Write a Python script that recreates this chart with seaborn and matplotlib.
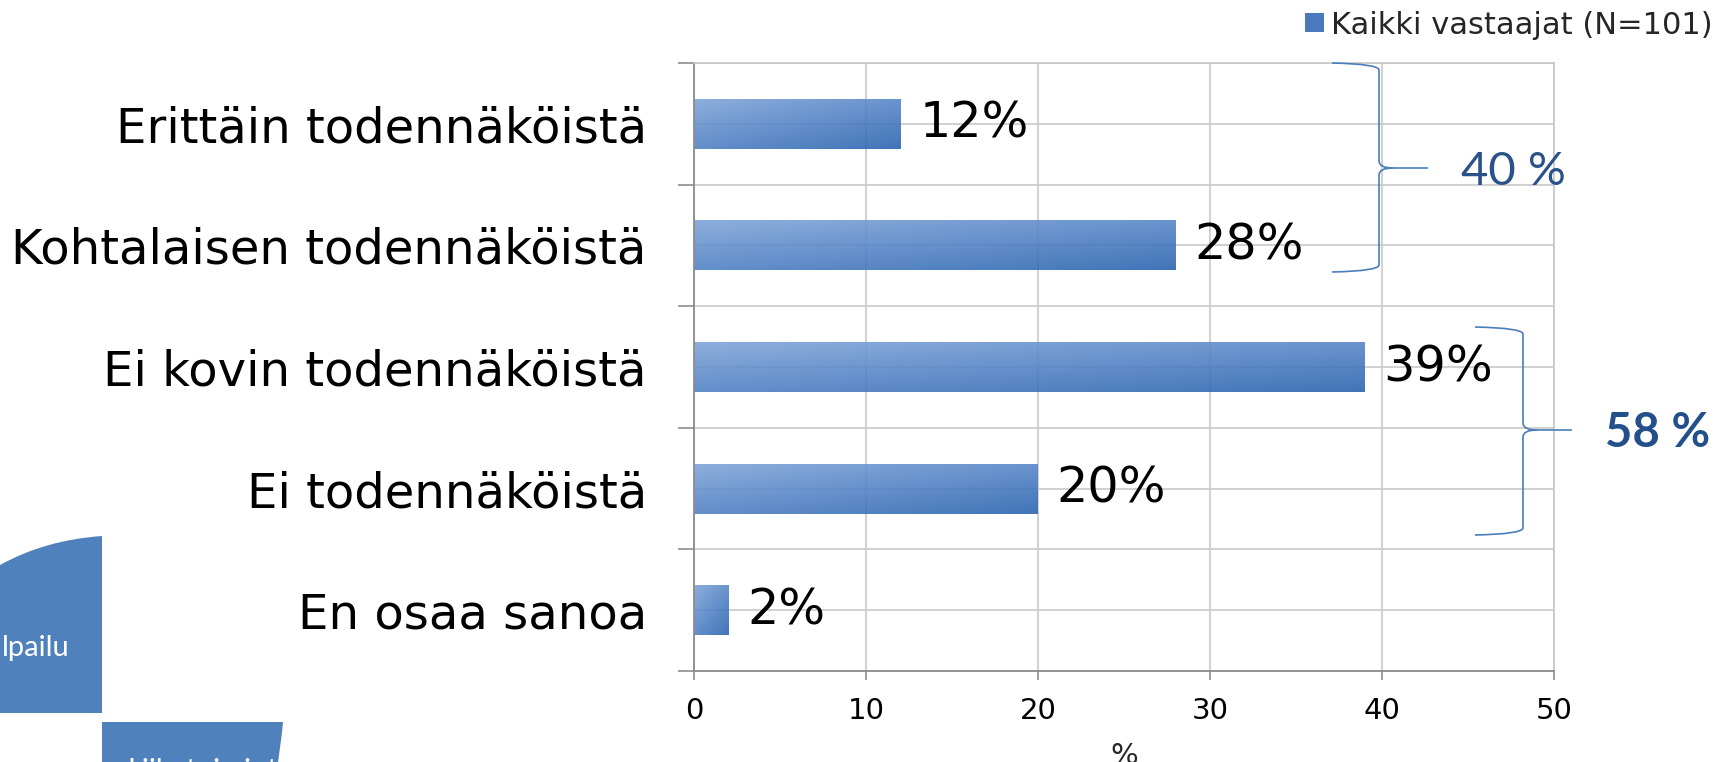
import numpy as np
import pandas as pd
import seaborn as sns
import matplotlib.pyplot as plt
from matplotlib.path import Path
from matplotlib.patches import PathPatch, Patch
from matplotlib.colors import LinearSegmentedColormap
from matplotlib.ticker import FixedLocator

categories = ["Erittäin todennäköistä", "Kohtalaisen todennäköistä",
              "Ei kovin todennäköistä", "Ei todennäköistä", "En osaa sanoa"]
values = [12, 28, 39, 20, 2]
series_name = "Kaikki vastaajat (N=101)"
group_labels = ["40 %", "58 %"]
x_ticks = [0, 10, 20, 30, 40, 50]

W, H = 1723, 762
sns.set_style("white")
plt.rcParams['font.family'] = ['DejaVu Sans']

df = pd.DataFrame({"cat": categories, "val": values})

fig = plt.figure(figsize=(W / 100, H / 100), dpi=100)
ax = fig.add_axes([694 / W, 1 - 671 / H, (1554 - 694) / W, (671 - 63) / H])

sns.barplot(data=df, y="cat", x="val", orient="h", width=0.41, color="#4a7abd", ax=ax)

# gradient fill on the bars (light top-left -> dark bottom-right)
cmap = LinearSegmentedColormap.from_list("bar", ["#80a5d8", "#5585c6", "#2c65b0"])
n = 64
u, v = np.meshgrid(np.linspace(0, 1, n), np.linspace(0, 1, n))
grad = 0.45 * u + 0.55 * v
for p in ax.patches:
    x0, y0, w, h = p.get_x(), p.get_y(), p.get_width(), p.get_height()
    im = ax.imshow(grad, cmap=cmap, extent=(x0, x0 + w, y0 + h, y0), origin="upper",
                   aspect="auto", alpha=0.9, zorder=2, interpolation="bilinear")
    im.set_clip_path(p)
    p.set_facecolor("none")
    p.set_edgecolor("none")

ax.set_xlim(0, 50)
ax.set_ylim(4.5, -0.5)
ax.set_axisbelow(True)

ax.bar_label(ax.containers[0], labels=[f"{v}%" for v in values], padding=13.5,
             fontsize=35.5, color="black")

# axes styling
ax.set_xticks(x_ticks)
ax.yaxis.set_minor_locator(FixedLocator(np.arange(-0.5, 5, 1)))
ax.grid(which="both", axis="y", color="#c8c8c8", lw=1.2)
ax.grid(which="major", axis="x", color="#c8c8c8", lw=1.2)
ax.tick_params(axis="y", which="major", length=0, pad=34, labelsize=34.7, labelcolor="black")
ax.tick_params(axis="y", which="minor", left=True, length=11.5, width=1.2,
               color="#8c8c8c", direction="out")
ax.tick_params(axis="x", which="major", bottom=True, length=6.5, width=1.2,
               color="#8c8c8c", direction="out", pad=12.5, labelsize=21, labelcolor="black")
for s in ["left", "bottom"]:
    ax.spines[s].set_color("#8c8c8c")
    ax.spines[s].set_linewidth(1.3)
for s in ["top", "right"]:
    ax.spines[s].set_color("#c8c8c8")
    ax.spines[s].set_linewidth(1.2)
ax.set_ylabel("")
ax.set_xlabel("%", fontsize=21, labelpad=12)

# legend
fig.legend(handles=[Patch(facecolor="#4a7abd", edgecolor="none")], labels=[series_name],
           loc="center right", bbox_to_anchor=(1713 / W, 1 - 25 / H), frameon=False,
           fontsize=22, handlelength=0.6, handleheight=0.55, handletextpad=0.25,
           borderpad=0, borderaxespad=0)


def px(x, y):
    return (x / W, 1 - y / H)


def brace(x_end, x_sp, x_tip, y_top, y_mid, y_bot):
    r = 7
    verts = [px(x_end, y_top), px(x_sp, y_top + 1), px(x_sp, y_top + r),
             px(x_sp, y_mid - r), px(x_sp, y_mid), px(x_sp + 14, y_mid),
             px(x_tip, y_mid),
             px(x_sp + 14, y_mid), px(x_sp, y_mid), px(x_sp, y_mid + r),
             px(x_sp, y_bot - r), px(x_sp, y_bot - 1), px(x_end, y_bot)]
    codes = [Path.MOVETO, Path.CURVE3, Path.CURVE3,
             Path.LINETO, Path.CURVE3, Path.CURVE3,
             Path.LINETO,
             Path.MOVETO, Path.CURVE3, Path.CURVE3,
             Path.LINETO, Path.CURVE3, Path.CURVE3]
    fig.patches.append(PathPatch(Path(verts, codes), transform=fig.transFigure,
                                 fill=False, edgecolor="#4a7ebb", lw=1.2))


brace(1332, 1379, 1428, 63, 168, 272)
brace(1475, 1523, 1572, 327, 430, 535)
fig.text(*px(1461, 172), group_labels[0], fontsize=34, color="#2a5289",
         family="Lato", ha="left", va="center")
fig.text(*px(1605, 433), group_labels[1], fontsize=34, color="#23508a",
         family="Lato", fontweight="bold", ha="left", va="center")

# leftover slide shapes at bottom-left
shape_col = "#4f81bd"
s1 = Path([px(0, 565), px(45, 540), px(102, 536), px(102, 713), px(0, 713), px(0, 565)],
          [Path.MOVETO, Path.CURVE3, Path.CURVE3, Path.LINETO, Path.LINETO, Path.CLOSEPOLY])
fig.patches.append(PathPatch(s1, transform=fig.transFigure, facecolor=shape_col, edgecolor="none"))
s2 = Path([px(102, 722), px(283, 722), px(281, 745), px(276, 775), px(102, 775), px(102, 722)],
          [Path.MOVETO, Path.LINETO, Path.CURVE3, Path.CURVE3, Path.LINETO, Path.CLOSEPOLY])
fig.patches.append(PathPatch(s2, transform=fig.transFigure, facecolor=shape_col, edgecolor="none"))
fig.text(*px(2, 648), "lpailu", fontsize=21, color="white", family="Lato", ha="left", va="center")
fig.text(*px(127, 758), "Liiketoiminta", fontsize=21, color="white", family="Lato",
         ha="left", va="top")

fig.savefig("out.png", dpi=100)
